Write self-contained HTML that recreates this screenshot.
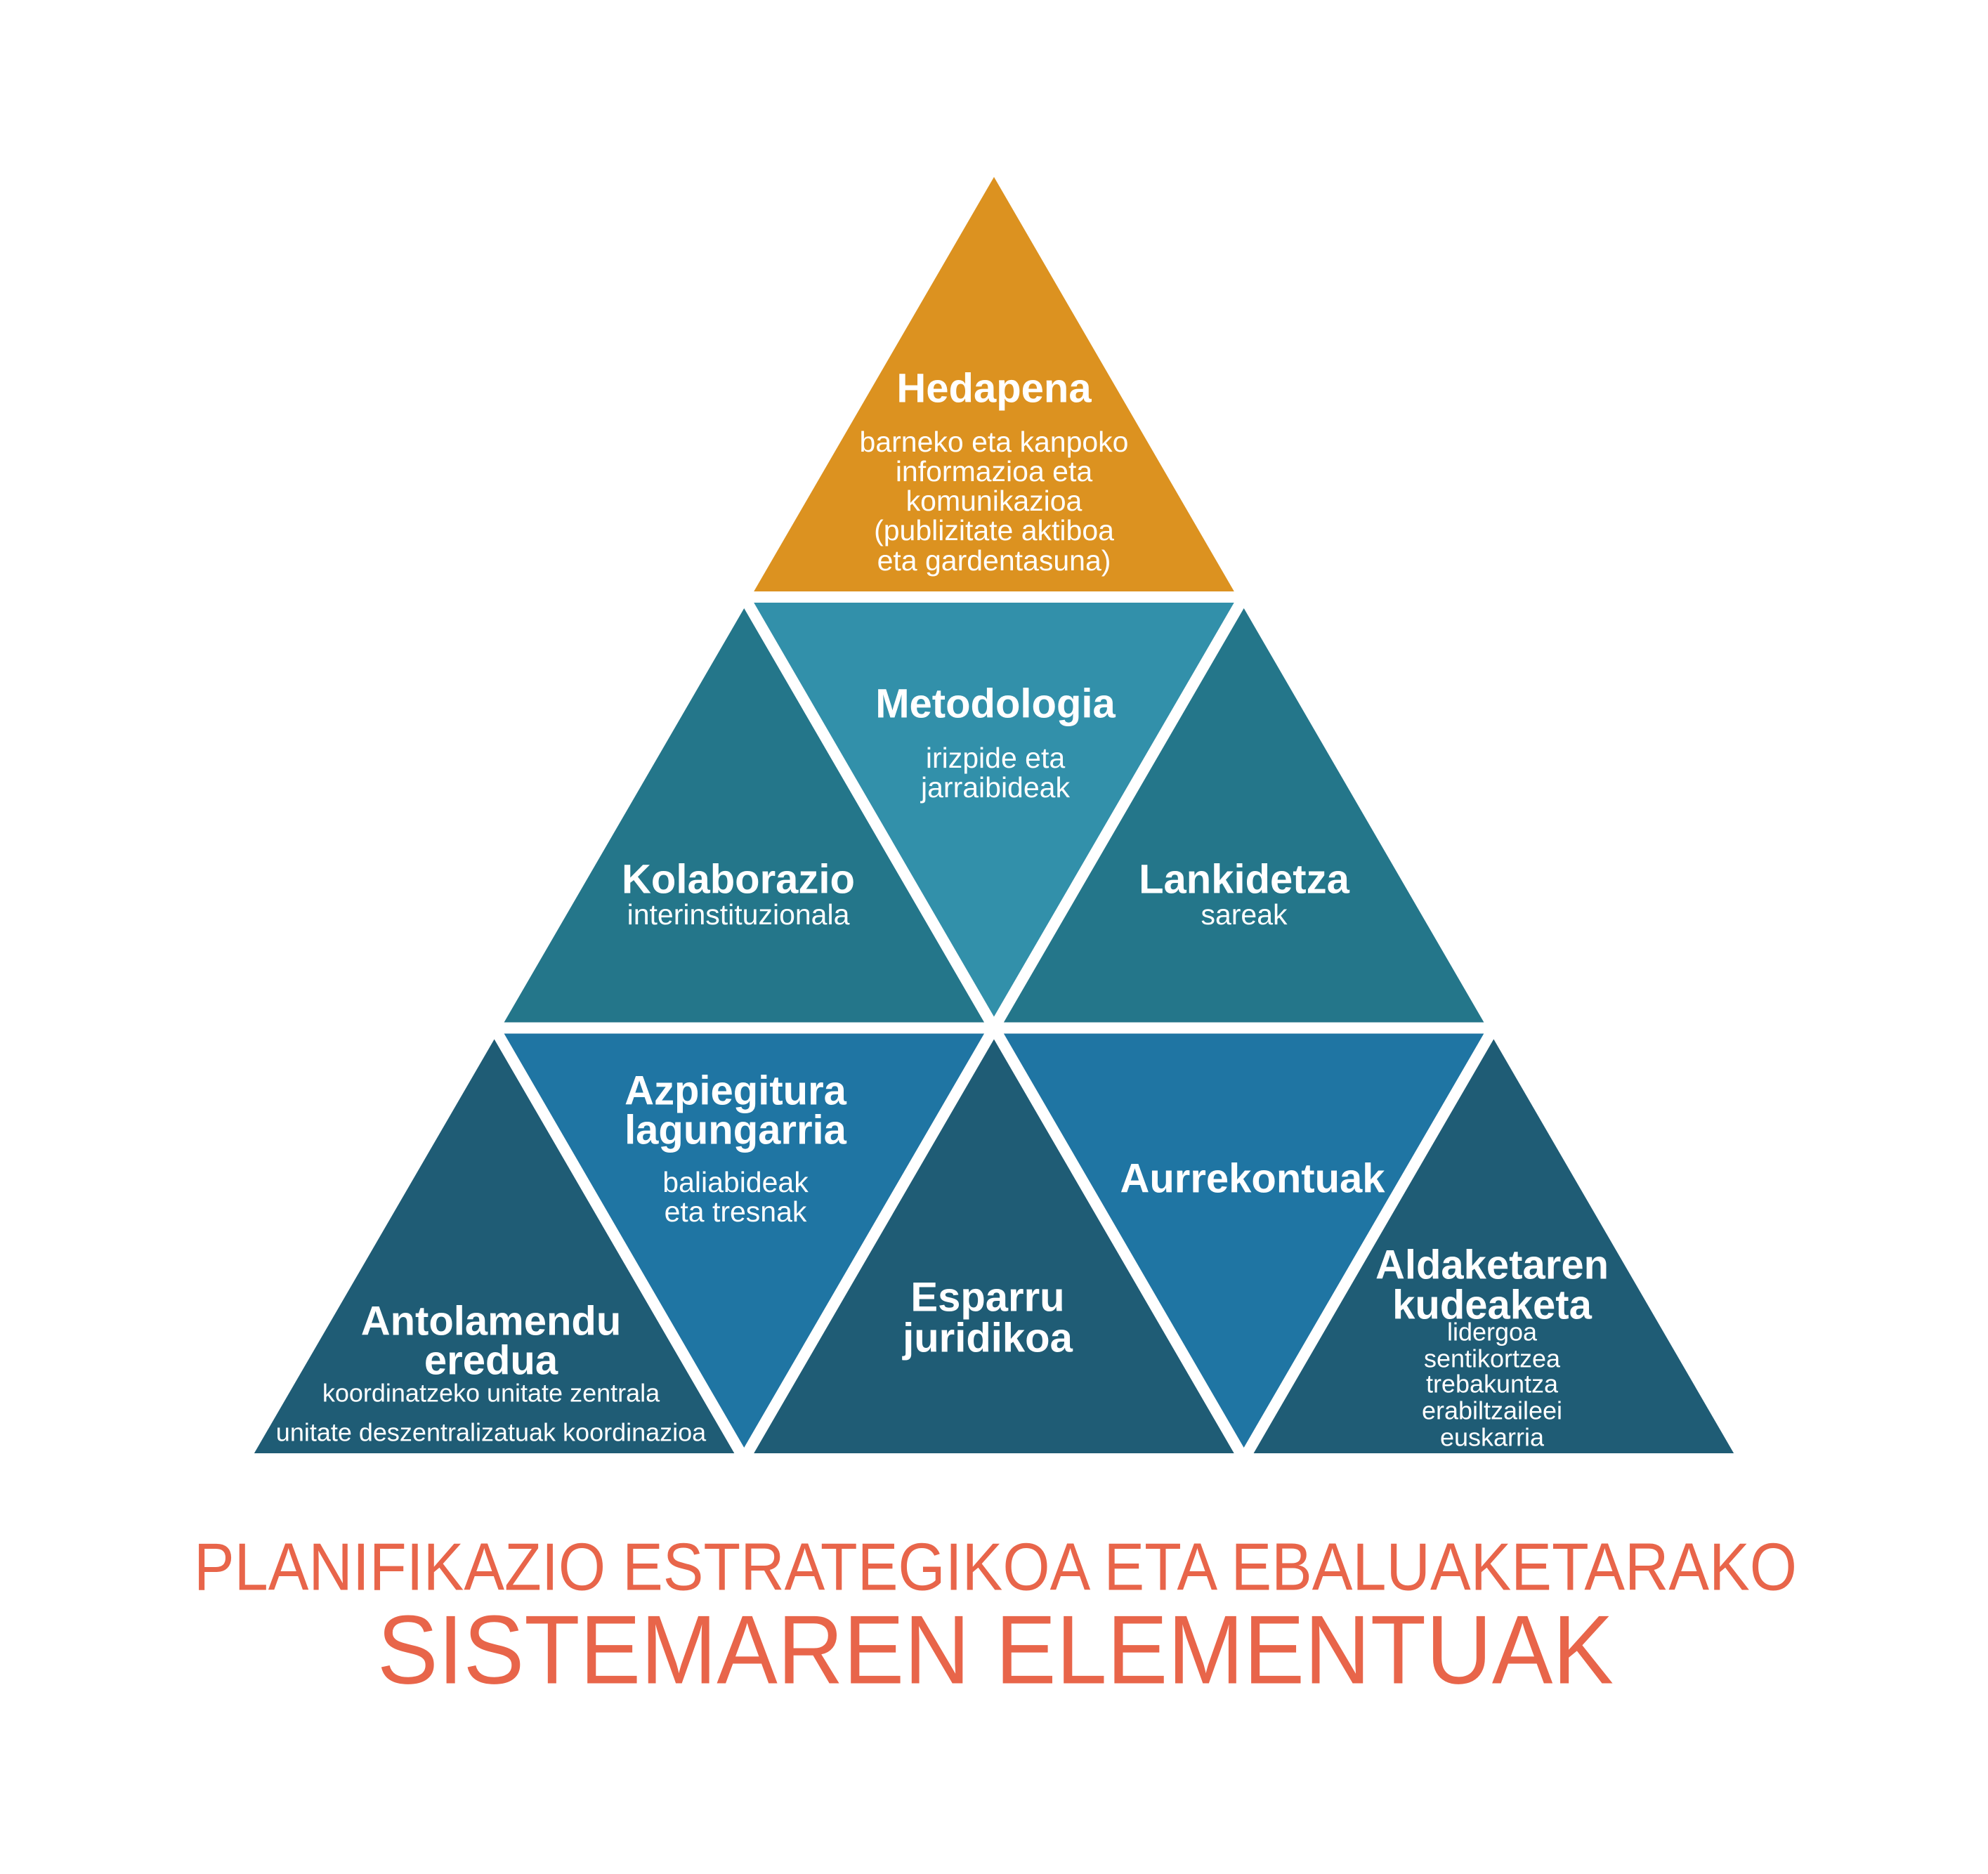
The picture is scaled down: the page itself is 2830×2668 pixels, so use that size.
<!DOCTYPE html>
<html><head><meta charset="utf-8"><style>html,body{margin:0;padding:0;background:#fff}svg{display:block}</style></head>
<body>
<svg width="2830" height="2668" viewBox="0 0 2830 2668" xmlns="http://www.w3.org/2000/svg" font-family="Liberation Sans, Arial, sans-serif">
<rect width="2830" height="2668" fill="#fff"/>
<g stroke="#fff" stroke-width="16" stroke-linejoin="miter">
<polygon points="1415,236 1059.3,850 1770.7,850" fill="#dc9220"/>
<polygon points="1059.3,850 703.7,1463.5 1415,1463.5" fill="#24768a"/>
<polygon points="1059.3,850 1770.7,850 1415,1463.5" fill="#3290aa"/>
<polygon points="1770.7,850 1415,1463.5 2126.3,1463.5" fill="#24768a"/>
<polygon points="703.7,1463.5 348,2077 1059.3,2077" fill="#1f5c75"/>
<polygon points="703.7,1463.5 1415,1463.5 1059.3,2077" fill="#1f75a3"/>
<polygon points="1415,1463.5 1059.3,2077 1770.7,2077" fill="#1f5c75"/>
<polygon points="1415,1463.5 2126.3,1463.5 1770.7,2077" fill="#1f75a3"/>
<polygon points="2126.3,1463.5 1770.7,2077 2482,2077" fill="#1f5c75"/>
</g>
<g fill="#fff" text-anchor="middle" dominant-baseline="central">
<g font-weight="bold" font-size="58">
<text x="1415" y="553">Hedapena</text>
<text x="1417" y="1002">Metodologia</text>
<text x="1051" y="1252">Kolaborazio</text>
<text x="1771" y="1252">Lankidetza</text>
<text x="1047" y="1553">Azpiegitura</text>
<text x="1047" y="1609">lagungarria</text>
<text x="1783" y="1678">Aurrekontuak</text>
<text x="1406" y="1847">Esparru</text>
<text x="1406" y="1905">juridikoa</text>
<text x="699" y="1881">Antolamendu</text>
<text x="699" y="1937">eredua</text>
<text x="2124" y="1801">Aldaketaren</text>
<text x="2124" y="1858">kudeaketa</text>
</g>
<g font-size="41">
<text x="1415" y="629">barneko eta kanpoko</text>
<text x="1415" y="671">informazioa eta</text>
<text x="1415" y="713">komunikazioa</text>
<text x="1415" y="755">(publizitate aktiboa</text>
<text x="1415" y="798">eta gardentasuna)</text>
<text x="1417" y="1079">irizpide eta</text>
<text x="1417" y="1121">jarraibideak</text>
<text x="1051" y="1302">interinstituzionala</text>
<text x="1771" y="1302">sareak</text>
<text x="1047" y="1683">baliabideak</text>
<text x="1047" y="1725">eta tresnak</text>
</g>
<g font-size="36">
<text x="699" y="1983">koordinatzeko unitate zentrala</text>
<text x="699" y="2039">unitate deszentralizatuak koordinazioa</text>
<text x="2124" y="1896">lidergoa</text>
<text x="2124" y="1934">sentikortzea</text>
<text x="2124" y="1970">trebakuntza</text>
<text x="2124" y="2008">erabiltzaileei</text>
<text x="2124" y="2046">euskarria</text>
</g>
</g>
<g fill="#e8654a" text-anchor="middle" dominant-baseline="central">
<text x="1417" y="2231" font-size="96" textLength="2282" lengthAdjust="spacingAndGlyphs">PLANIFIKAZIO ESTRATEGIKOA ETA EBALUAKETARAKO</text>
<text x="1417" y="2349" font-size="139" textLength="1760" lengthAdjust="spacingAndGlyphs">SISTEMAREN ELEMENTUAK</text>
</g>
</svg>
</body></html>
